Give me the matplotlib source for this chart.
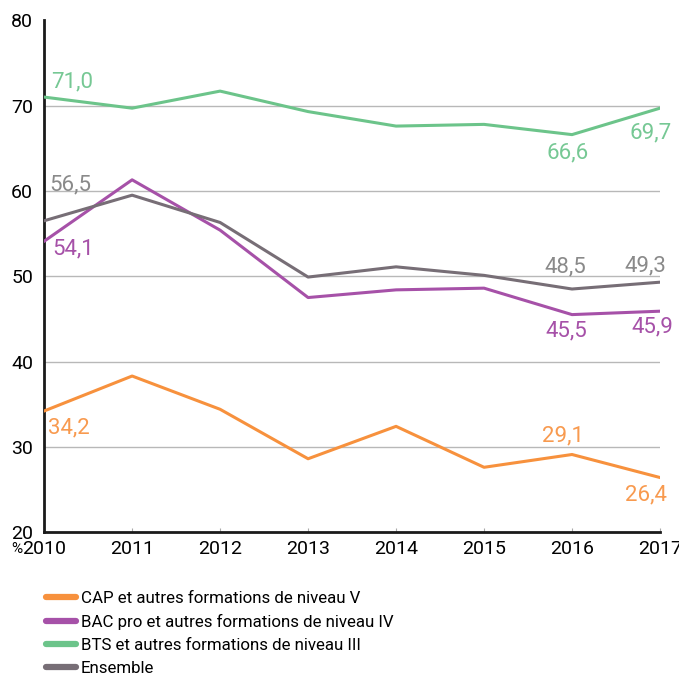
import matplotlib
matplotlib.use('Agg')
import matplotlib.pyplot as plt

plt.rcParams['font.family'] = ['Roboto', 'DejaVu Sans']

years = [2010, 2011, 2012, 2013, 2014, 2015, 2016, 2017]
cap = [34.2, 38.3, 34.4, 28.6, 32.4, 27.6, 29.1, 26.4]
bac = [54.1, 61.3, 55.4, 47.5, 48.4, 48.6, 45.5, 45.9]
bts = [71.0, 69.7, 71.7, 69.3, 67.6, 67.8, 66.6, 69.7]
ensemble = [56.5, 59.5, 56.3, 49.9, 51.1, 50.1, 48.5, 49.3]

series_names = ['CAP et autres formations de niveau V',
                'BAC pro et autres formations de niveau IV',
                'BTS et autres formations de niveau III',
                'Ensemble']
line_colors = ['#f7913d', '#a651a8', '#6cc48a', '#776e76']
label_colors = ['#f89a4f', '#a651a8', '#76c894', '#8a8a8a']

# value labels: (point index, x shift px, y shift px, alignment)
labels = [
    [(0, 4, -17, 'left'), (6, -9, 19, 'center'), (7, 7, -17, 'right')],
    [(0, 8, -8, 'left'), (6, -6, -16, 'center'), (7, 13, -16, 'right')],
    [(0, 7, 15, 'left'), (6, -4, -18, 'center'), (7, 12, -25, 'right')],
    [(0, 5, 36, 'left'), (6, -7, 22, 'center'), (7, 6, 16, 'right')],
]

fig = plt.figure(figsize=(6.79, 6.77), dpi=100)
ax = fig.add_axes([0.065, 0.214, 0.907, 0.756])

for y in [30, 40, 50, 60, 70]:
    ax.axhline(y, color='#b8b8b8', lw=1, zorder=1)

all_series = [cap, bac, bts, ensemble]
for vals, name, col, lcol, lab in zip(all_series, series_names, line_colors, label_colors, labels):
    ax.plot(years, vals, color=col, lw=2.2, label=name, zorder=3)
    for i, dx, dy, ha in lab:
        txt = ('%.1f' % vals[i]).replace('.', ',')
        ax.annotate(txt, (years[i], vals[i]), xytext=(dx * 0.72, dy * 0.72),
                    textcoords='offset points', color=lcol, fontsize=16,
                    ha=ha, va='center', zorder=4, annotation_clip=False)

ax.set_xlim(2010, 2017)
ax.set_ylim(20, 80)
ax.set_yticks([20, 30, 40, 50, 60, 70, 80])
ax.set_xticks(years)
ax.tick_params(axis='y', length=0, labelsize=14, pad=8)
ax.tick_params(axis='x', direction='in', length=3, color='#aaaaaa', labelsize=14, pad=6)
for s in ['top', 'right']:
    ax.spines[s].set_visible(False)
for s in ['left', 'bottom']:
    ax.spines[s].set_linewidth(2)
    ax.spines[s].set_color('#1a1a1a')

fig.text(22 / 679, 1 - 549 / 677, '%', fontsize=11, ha='right', va='center')

leg = fig.legend(loc='upper left', bbox_to_anchor=(0.058, 0.1365), frameon=False,
                 fontsize=12.2, handlelength=1.75, handletextpad=0.3, labelspacing=0.47,
                 borderaxespad=0)
for h in leg.get_lines():
    h.set_linewidth(4.5)
    h.set_solid_capstyle('round')

fig.savefig('out.png', dpi=100)
